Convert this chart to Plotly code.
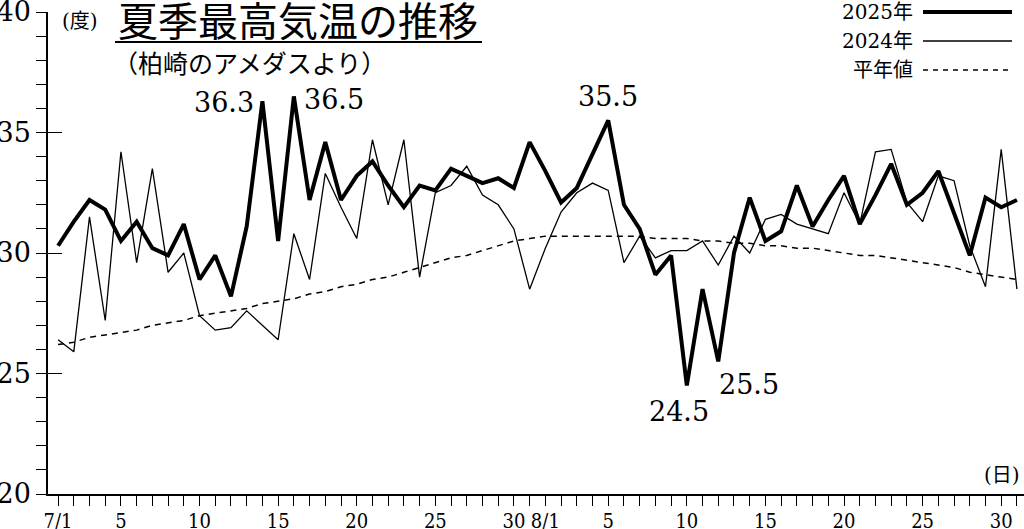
import plotly.graph_objects as go

# ---------------- data ----------------
month_days = [("7", 31), ("8", 31)]
days = [f"{m}/{d}" for m, n in month_days for d in range(1, n + 1)]

temp_2025 = [30.3, 31.3, 32.2, 31.8, 30.5, 31.3, 30.2, 29.9, 31.2, 28.9,
             29.9, 28.2, 31.1, 36.3, 30.5, 36.5, 32.2, 34.6, 32.2, 33.2,
             33.8, 32.8, 31.9, 32.8, 32.6, 33.5, 33.2, 32.9, 33.1, 32.7,
             34.6, 33.4, 32.1, 32.7, 34.1, 35.5, 32.0, 31.0, 29.1, 29.9,
             24.5, 28.5, 25.5, 30.0, 32.3, 30.5, 30.9, 32.8, 31.1, 32.2,
             33.2, 31.2, 32.4, 33.7, 32.0, 32.5, 33.4, 31.6, 29.9, 32.3,
             31.9, 32.2]

temp_2024 = [26.4, 25.9, 31.5, 27.2, 34.2, 29.6, 33.5, 29.2, 30.0, 27.4,
             26.8, 26.9, 27.6, 27.0, 26.4, 30.8, 28.9, 33.3, 31.9, 30.6,
             34.7, 32.0, 34.7, 29.0, 32.5, 32.8, 33.6, 32.4, 32.0, 31.0,
             28.5, 30.2, 31.7, 32.5, 32.9, 32.6, 29.6, 30.7, 29.8, 30.1,
             30.1, 30.5, 29.5, 30.7, 30.0, 31.4, 31.6, 31.2, 31.0, 30.8,
             32.5, 31.2, 34.2, 34.3, 32.1, 31.3, 33.2, 33.0, 30.3, 28.6,
             34.3, 28.5]

temp_normal = [26.2, 26.3, 26.5, 26.6, 26.7, 26.8, 27.0, 27.1, 27.2, 27.4,
               27.5, 27.6, 27.7, 27.9, 28.0, 28.1, 28.3, 28.4, 28.6, 28.7,
               28.9, 29.0, 29.2, 29.4, 29.6, 29.8, 29.9, 30.1, 30.3, 30.5,
               30.6, 30.7, 30.7, 30.7, 30.7, 30.7, 30.7, 30.7, 30.6, 30.6,
               30.6, 30.5, 30.5, 30.4, 30.4, 30.3, 30.3, 30.2, 30.2, 30.1,
               30.0, 29.9, 29.9, 29.8, 29.7, 29.6, 29.5, 29.4, 29.2, 29.1,
               29.0, 28.9]

labeled_days = ["7/1", "7/5", "7/10", "7/15", "7/20", "7/25", "7/30",
                "8/1", "8/5", "8/10", "8/15", "8/20", "8/25", "8/30"]
highlight_days = ["7/14", "7/16", "8/5", "8/10", "8/12"]

y_ticks = [20, 25, 30, 35, 40]

# ---------------- layout helpers ----------------
W, H = 1024, 529
ML, MR, MT, MB = 48, 0, 12, 35
PW, PH = W - ML - MR, H - MT - MB


def px(x):
    return (x - ML) / PW


def py(y):
    return (H - MB - y) / PH


xs = list(range(len(days)))


def short_label(d):
    if d not in labeled_days:
        return ""
    m, dd = d.split("/")
    return d if dd == "1" else dd


SERIF = "DejaVu Serif, Noto Sans CJK JP"
SANS = "Noto Sans CJK JP, Noto Sans"

fig = go.Figure()
fig.add_trace(go.Scatter(x=xs, y=temp_normal, mode="lines", name="平年値",
                         line=dict(color="black", width=1.5, dash="6px,5px"),
                         showlegend=False, hoverinfo="skip"))
fig.add_trace(go.Scatter(x=xs, y=temp_2024, mode="lines", name="2024年",
                         line=dict(color="black", width=1.3),
                         showlegend=False))
fig.add_trace(go.Scatter(x=xs, y=temp_2025, mode="lines", name="2025年",
                         line=dict(color="black", width=4),
                         showlegend=False))

fig.update_layout(
    width=W, height=H,
    margin=dict(l=ML, r=MR, t=MT, b=MB),
    paper_bgcolor="white", plot_bgcolor="white",
    font=dict(family=SERIF, color="black"),
    xaxis=dict(
        range=[-0.64, 61.45], showgrid=False, zeroline=False,
        showline=True, linecolor="black", linewidth=1.5,
        tickmode="array", tickvals=xs, ticktext=[short_label(d) for d in days],
        ticks="outside", ticklen=10, tickwidth=1, tickcolor="black",
        tickfont=dict(family="DejaVu Serif Condensed, DejaVu Serif", size=20),
        ticklabelstandoff=-2,
        ticklabeloverflow="allow", automargin=False,
    ),
    yaxis=dict(
        range=[20, 40], showgrid=False, zeroline=False,
        showline=True, linecolor="black", linewidth=1.5,
        tickmode="array", tickvals=y_ticks,
        ticks="outside", ticklen=10, tickwidth=1.2, tickcolor="black",
        tickfont=dict(family="DejaVu Serif", size=27),
        ticklabelstandoff=0, ticklabeloverflow="allow", automargin=False,
        minor=dict(dtick=1, ticks="outside", ticklen=10, tickwidth=1, tickcolor="black"),
    ),
    yaxis2=dict(
        range=[20, 40], overlaying="y", side="left", anchor="x",
        showgrid=False, zeroline=False, showline=False, showticklabels=False,
        tickmode="array", tickvals=y_ticks, ticks="inside", ticklen=14,
        tickwidth=1.2, tickcolor="black", automargin=False,
    ),
)
# empty trace so that the inner-tick axis is drawn
fig.add_trace(go.Scatter(x=[None], y=[None], yaxis="y2", showlegend=False, hoverinfo="skip"))

# ---------------- peak annotations ----------------
ann_style = {
    "7/14": dict(xanchor="right", yanchor="middle", xshift=-6, yshift=-1),
    "7/16": dict(xanchor="left", yanchor="middle", xshift=8, yshift=-3),
    "8/5": dict(xanchor="center", yanchor="bottom", xshift=0, yshift=6),
    "8/10": dict(xanchor="center", yanchor="top", xshift=-8, yshift=-8),
    "8/12": dict(xanchor="left", yanchor="top", xshift=-1, yshift=-6),
}
for d in highlight_days:
    i = days.index(d)
    v = temp_2025[i]
    fig.add_annotation(x=i, y=v, text=f"{v:.1f}", showarrow=False,
                       font=dict(family="DejaVu Serif", size=27, color="black"),
                       **ann_style[d])

# ---------------- texts ----------------
fig.add_annotation(xref="paper", yref="paper", x=px(80), y=py(21), text="(度)",
                   showarrow=False, xanchor="center", yanchor="middle",
                   font=dict(family=SERIF, size=20))
fig.add_annotation(xref="paper", yref="paper", x=px(298), y=py(19),
                   text="夏季最高気温の推移", showarrow=False,
                   xanchor="center", yanchor="middle",
                   font=dict(family=SANS, size=40))
fig.add_shape(type="line", xref="paper", yref="paper",
              x0=px(115), x1=px(482), y0=py(42), y1=py(42),
              line=dict(color="black", width=2))
fig.add_annotation(xref="paper", yref="paper", x=px(111), y=py(62),
                   text="（柏崎のアメダスより）", showarrow=False,
                   xanchor="left", yanchor="middle",
                   font=dict(family=SANS, size=25))
fig.add_annotation(xref="paper", yref="paper", x=px(1022), y=py(475),
                   text="(日)", showarrow=False, xanchor="right", yanchor="middle",
                   font=dict(family=SERIF, size=20))

# ---------------- custom legend (text left, line right) ----------------
legend_items = [("2025年", 4, "solid", 12), ("2024年", 1.5, "solid", 41),
                ("平年値", 1.3, "5px,5px", 70)]
for label, lw, dash, yy in legend_items:
    fig.add_annotation(xref="paper", yref="paper", x=px(915), y=py(yy),
                       text=label, showarrow=False, xanchor="right", yanchor="middle",
                       font=dict(family=SERIF, size=20))
    fig.add_shape(type="line", xref="paper", yref="paper",
                  x0=px(923), x1=px(1012), y0=py(yy), y1=py(yy),
                  line=dict(color="black", width=lw, dash=dash))

fig.write_html(
    "out.html",
    config={"displayModeBar": False},
    post_script="document.body.style.margin='0px';document.body.style.overflow='hidden';",
)
